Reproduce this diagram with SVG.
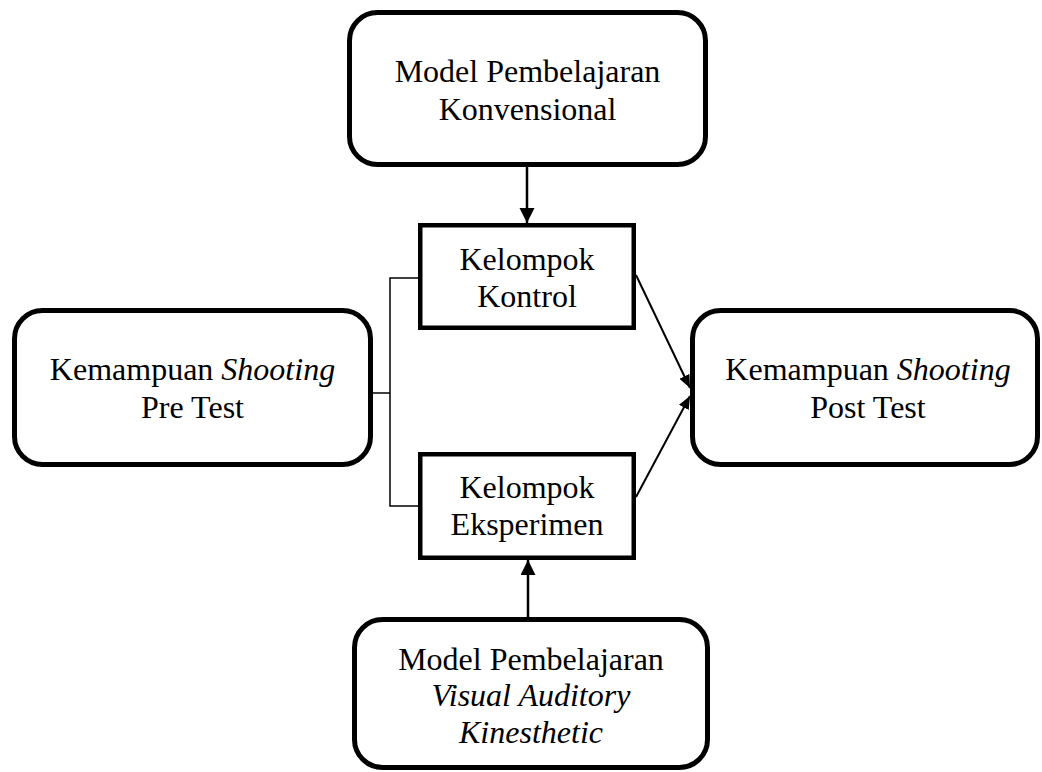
<svg xmlns="http://www.w3.org/2000/svg" width="1042" height="772" viewBox="0 0 1042 772">
<style>
.rbox{fill:#fff;stroke:#000;stroke-width:5}
.sbox{fill:#fff;stroke:#000;stroke-width:4.5}
.t{font-family:"Liberation Serif","Times New Roman",serif;font-size:32px;fill:#000;text-anchor:middle}
.i{font-style:italic}
.conn{fill:none;stroke:#000}
</style>
<defs>
<marker id="ah" markerUnits="userSpaceOnUse" markerWidth="16" markerHeight="16" refX="15" refY="7.5" orient="auto">
<path d="M0,0 L15,7.5 L0,15 Z" fill="#000"/>
</marker>
<marker id="ahs" markerUnits="userSpaceOnUse" markerWidth="14" markerHeight="12" refX="13" refY="5.5" orient="auto">
<path d="M0,0 L13,5.5 L0,11 Z" fill="#000"/>
</marker>
</defs>
<g id="connectors">
<line class="conn" x1="527" y1="167" x2="527" y2="223" stroke-width="2.5" marker-end="url(#ah)"/>
<line class="conn" x1="528" y1="617" x2="528" y2="560" stroke-width="2.5" marker-end="url(#ah)"/>
<polyline class="conn" points="418,278 390,278 390,506 418,506" stroke-width="1.5"/>
<line class="conn" x1="373" y1="393" x2="390" y2="393" stroke-width="1.5"/>
<line class="conn" x1="636" y1="275" x2="690" y2="388" stroke-width="2" marker-end="url(#ahs)"/>
<line class="conn" x1="636" y1="497" x2="690" y2="396" stroke-width="2" marker-end="url(#ahs)"/>
</g>
<g id="model-konvensional">
<rect class="rbox" x="349.5" y="12.5" width="356" height="152" rx="28"/>
<text class="t" x="527.5" y="82">Model Pembelajaran</text>
<text class="t" x="527.5" y="120">Konvensional</text>
</g>
<g id="kelompok-kontrol">
<rect class="sbox" x="420.25" y="225.25" width="213.5" height="102.5"/>
<text class="t" x="527" y="270">Kelompok</text>
<text class="t" x="527" y="307">Kontrol</text>
</g>
<g id="pre-test">
<rect class="rbox" x="14.5" y="310.5" width="356" height="154" rx="28"/>
<text class="t" x="192.5" y="380">Kemampuan <tspan class="i">Shooting</tspan></text>
<text class="t" x="192.5" y="418">Pre Test</text>
</g>
<g id="post-test">
<rect class="rbox" x="692.5" y="310.5" width="345" height="154" rx="28"/>
<text class="t" x="868" y="380">Kemampuan <tspan class="i">Shooting</tspan></text>
<text class="t" x="868" y="418">Post Test</text>
</g>
<g id="kelompok-eksperimen">
<rect class="sbox" x="420.25" y="454.25" width="213.5" height="103.5"/>
<text class="t" x="527" y="498">Kelompok</text>
<text class="t" x="527" y="535">Eksperimen</text>
</g>
<g id="model-vak">
<rect class="rbox" x="354.5" y="619.5" width="353" height="148" rx="28"/>
<text class="t" x="531" y="670">Model Pembelajaran</text>
<text class="t i" x="531" y="706">Visual Auditory</text>
<text class="t i" x="531" y="743">Kinesthetic</text>
</g>
</svg>
